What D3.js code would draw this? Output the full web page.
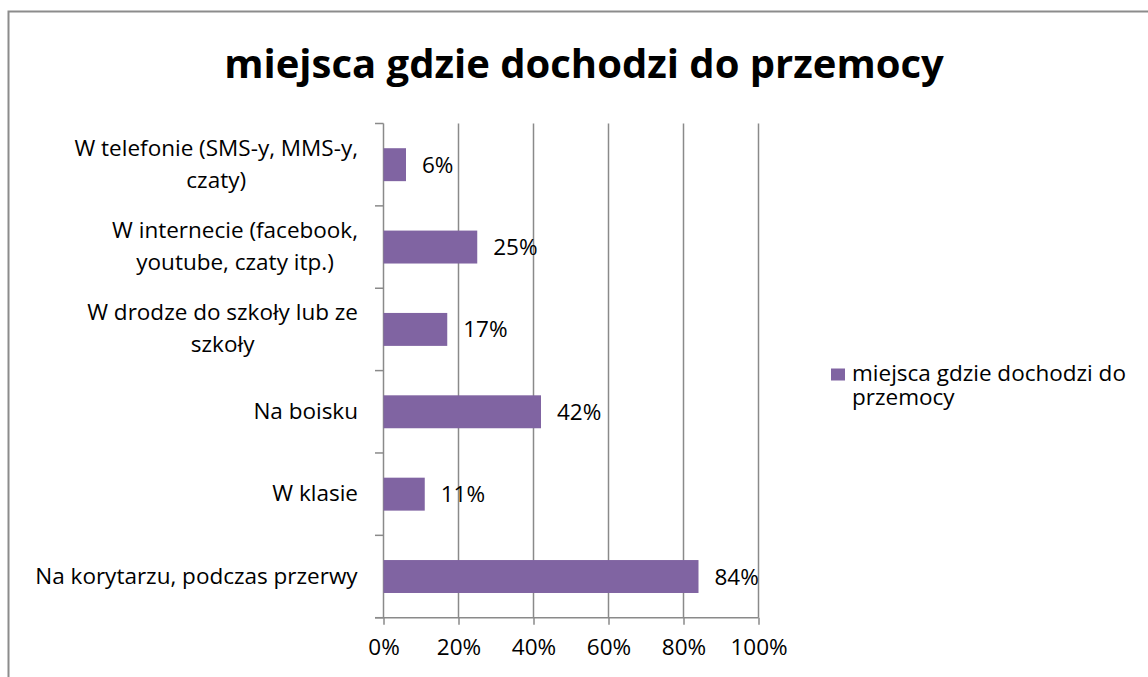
<!DOCTYPE html>
<html>
<head>
<meta charset="utf-8">
<script src="https://cdn.jsdelivr.net/npm/d3@7"></script>
<style>
  body { margin: 0; background: #fff; }
  svg text { font-family: "Open Sans", sans-serif; fill: #000; }
</style>
</head>
<body>
<script>
// chart data
var title = "miejsca gdzie dochodzi do przemocy";
var seriesName = ["miejsca gdzie dochodzi do", "przemocy"];
var categories = [
    ["W telefonie (SMS-y, MMS-y,", "czaty)"],
    ["W internecie (facebook,", "youtube, czaty itp.)"],
    ["W drodze do szkoły lub ze", "szkoły"],
    ["Na boisku"],
    ["W klasie"],
    ["Na korytarzu, podczas przerwy"]
];
var values = [0.06, 0.25, 0.17, 0.42, 0.11, 0.84];
var xTicks = [0, 0.2, 0.4, 0.6, 0.8, 1.0];

var w = 1148, h = 677;
var barColor = "#8064A2", gridColor = "#8a8a8a";
var fs = "22.5px";

var svg = d3.select("body").append("svg")
    .attr("width", w)
    .attr("height", h);

// outer chart border (runs off the right and bottom edge)
svg.append("rect")
    .attr("x", 8.5).attr("y", 11.5)
    .attr("width", 1200).attr("height", 1000)
    .style("fill", "#fff")
    .style("stroke", "#8c8c8c")
    .style("stroke-width", 2);

// scales
var x = d3.scaleLinear().domain([0, 1]).range([383.5, 758.5]);
var idx = d3.range(categories.length);
var y = d3.scaleBand().domain(idx).range([123.5, 617.7])
    .paddingInner(0.6).paddingOuter(0.3);
var step = y.step();

// title
svg.append("text")
    .attr("x", 584).attr("y", 78)
    .attr("text-anchor", "middle")
    .style("font-size", "40px")
    .style("font-weight", "bold")
    .text(title);

// vertical gridlines
svg.selectAll(".grid")
    .data(xTicks.slice(1))
    .enter().append("line")
    .attr("class", "grid")
    .attr("x1", function(d){ return x(d); })
    .attr("x2", function(d){ return x(d); })
    .attr("y1", 123.5).attr("y2", 617.7)
    .style("stroke", gridColor)
    .style("stroke-width", 1.5);

// bottom axis
var xAxis = d3.axisBottom(x)
    .tickValues(xTicks)
    .tickFormat(d3.format(".0%"))
    .tickSize(7)
    .tickPadding(14);
var gx = svg.append("g")
    .attr("transform", "translate(0,617.7)")
    .call(xAxis);
gx.select(".domain").remove();
gx.selectAll("line").style("stroke", gridColor).style("stroke-width", 1.5);
gx.selectAll("text").style("font-size", fs).style("font-family", "'Open Sans', sans-serif");
svg.append("line")
    .attr("x1", 375).attr("x2", x(1))
    .attr("y1", 617.7).attr("y2", 617.7)
    .style("stroke", gridColor).style("stroke-width", 1.5);

// left axis line with ticks on category boundaries
svg.append("line")
    .attr("x1", x(0)).attr("x2", x(0))
    .attr("y1", 123.5).attr("y2", 617.7)
    .style("stroke", gridColor).style("stroke-width", 1.5);
svg.selectAll(".ytick")
    .data(d3.range(categories.length + 1))
    .enter().append("line")
    .attr("class", "ytick")
    .attr("x1", 375).attr("x2", x(0))
    .attr("y1", function(i){ return 123.5 + i * step; })
    .attr("y2", function(i){ return 123.5 + i * step; })
    .style("stroke", gridColor).style("stroke-width", 1.5);

// category labels (multi-line, centred within a right-aligned block)
var lineH = 32;
idx.forEach(function(i){
    var lines = categories[i];
    var cy = y(i) + y.bandwidth() / 2;
    var t = svg.append("text")
        .attr("text-anchor", "middle")
        .style("font-size", fs);
    lines.forEach(function(s, k){
        t.append("tspan")
            .attr("x", 0)
            .attr("y", cy + 7 + (k - (lines.length - 1) / 2) * lineH)
            .text(s);
    });
    var bw = t.node().getBBox().width;
    t.selectAll("tspan").attr("x", 358 - bw / 2);
});

// bars
svg.selectAll(".bar")
    .data(values)
    .enter().append("rect")
    .attr("class", "bar")
    .attr("x", x(0))
    .attr("y", function(d, i){ return y(i); })
    .attr("width", function(d){ return x(d) - x(0); })
    .attr("height", y.bandwidth())
    .style("fill", barColor);

// value labels
svg.selectAll(".val")
    .data(values)
    .enter().append("text")
    .attr("class", "val")
    .attr("x", function(d){ return x(d) + 16; })
    .attr("y", function(d, i){ return y(i) + y.bandwidth() / 2 + 8; })
    .style("font-size", fs)
    .text(function(d){ return d3.format(".0%")(d); });

// legend
svg.append("rect")
    .attr("x", 831).attr("y", 368.5)
    .attr("width", 14).attr("height", 12)
    .style("fill", barColor);
var lg = svg.append("text").style("font-size", fs);
seriesName.forEach(function(s, k){
    lg.append("tspan").attr("x", 852).attr("y", 381 + k * 24).text(s);
});
</script>
</body>
</html>
